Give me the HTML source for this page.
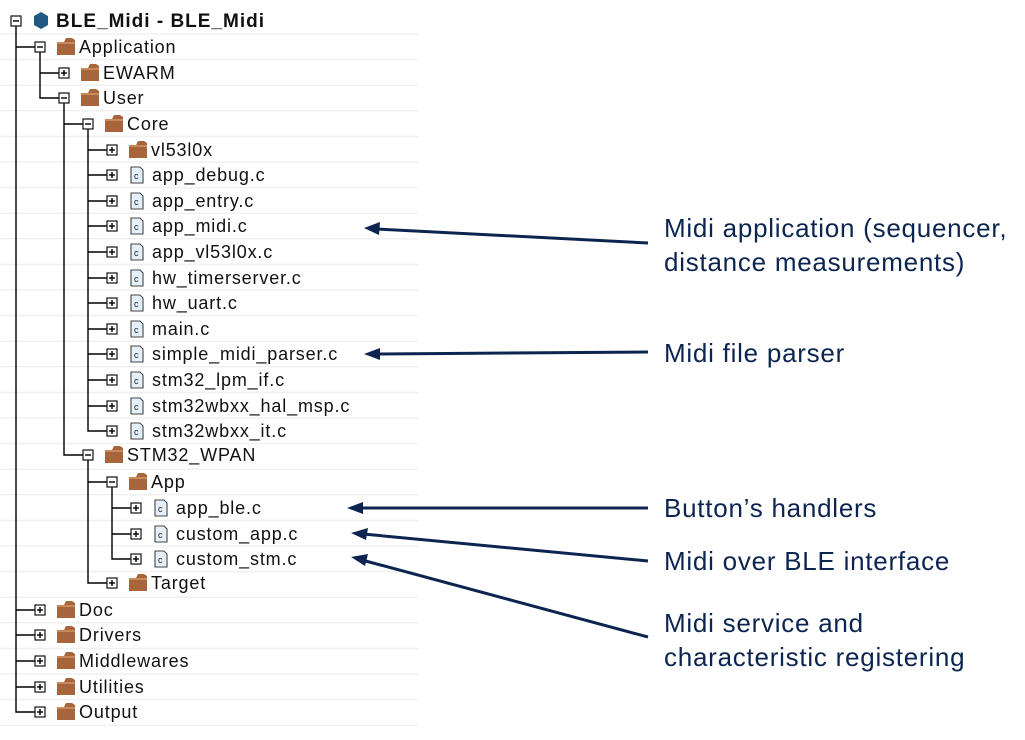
<!DOCTYPE html>
<html><head><meta charset="utf-8"><style>
html,body{margin:0;padding:0;background:#fff;}
svg{display:block;}
.t{font-family:"Liberation Sans",sans-serif;font-size:18px;letter-spacing:0.85px;fill:#111;}
.l{font-family:"Liberation Sans",sans-serif;font-size:26px;letter-spacing:0.75px;fill:#0c2550;}
</style></head><body>
<svg width="1025" height="740" viewBox="0 0 1025 740" xmlns="http://www.w3.org/2000/svg">
<defs>
<g id="bm"><rect x="-5" y="-5" width="10" height="10" fill="#fff" stroke="#111" stroke-width="1.2"/><line x1="-3" y1="0" x2="3" y2="0" stroke="#000" stroke-width="1.4"/></g>
<g id="bp"><rect x="-5" y="-5" width="10" height="10" fill="#fff" stroke="#111" stroke-width="1.2"/><line x1="-3" y1="0" x2="3" y2="0" stroke="#000" stroke-width="1.4"/><line x1="0" y1="-3" x2="0" y2="3" stroke="#000" stroke-width="1.4"/></g>
<g id="fd"><path d="M17,-5 L17,8 L35,8 L35,-7 L32,-9 L26,-9 L24,-5 Z" fill="#a8643a"/><rect x="17" y="-5" width="18" height="2" fill="#c88a5a"/></g>
<g id="fl"><path d="M19,-8 L28,-8 L31,-5 L31,8 L19,8 Z" fill="#e6f0fa" stroke="#444" stroke-width="1.1"/><text x="22" y="4" font-family="Liberation Sans" font-size="9" fill="#222">c</text></g>
</defs>
<g stroke="#f0f0f0" stroke-width="1.5">
<line x1="0" y1="34" x2="418" y2="34"/><line x1="0" y1="59.6" x2="418" y2="59.6"/><line x1="0" y1="85.2" x2="418" y2="85.2"/><line x1="0" y1="110.8" x2="418" y2="110.8"/><line x1="0" y1="136.4" x2="418" y2="136.4"/><line x1="0" y1="162" x2="418" y2="162"/><line x1="0" y1="187.6" x2="418" y2="187.6"/><line x1="0" y1="213.2" x2="418" y2="213.2"/><line x1="0" y1="238.8" x2="418" y2="238.8"/><line x1="0" y1="264.4" x2="418" y2="264.4"/><line x1="0" y1="290" x2="418" y2="290"/><line x1="0" y1="315.6" x2="418" y2="315.6"/><line x1="0" y1="341.2" x2="418" y2="341.2"/><line x1="0" y1="366.8" x2="418" y2="366.8"/><line x1="0" y1="392.4" x2="418" y2="392.4"/><line x1="0" y1="418" x2="418" y2="418"/><line x1="0" y1="443.6" x2="418" y2="443.6"/><line x1="0" y1="469.2" x2="418" y2="469.2"/><line x1="0" y1="494.8" x2="418" y2="494.8"/><line x1="0" y1="520.4" x2="418" y2="520.4"/><line x1="0" y1="546" x2="418" y2="546"/><line x1="0" y1="571.6" x2="418" y2="571.6"/><line x1="0" y1="597.2" x2="418" y2="597.2"/><line x1="0" y1="622.8" x2="418" y2="622.8"/><line x1="0" y1="648.4" x2="418" y2="648.4"/><line x1="0" y1="674" x2="418" y2="674"/><line x1="0" y1="699.6" x2="418" y2="699.6"/><line x1="0" y1="725.2" x2="418" y2="725.2"/>
</g>
<g stroke="#000" stroke-width="1.4" fill="none">
<path d="M16,26 V712 H35"/>
<path d="M16,47 H35 M16,610 H35 M16,635 H35 M16,661 H35 M16,687 H35"/>
<path d="M40,52 V98 H59 M40,73 H59"/>
<path d="M64,103 V455 H83 M64,124 H83"/>
<path d="M88,129 V431 H107"/>
<path d="M88,150 H107 M88,175 H107 M88,201 H107 M88,226 H107 M88,252 H107 M88,278 H107 M88,303 H107 M88,329 H107 M88,354 H107 M88,380 H107 M88,406 H107"/>
<path d="M88,460 V583 H107 M88,482 H107"/>
<path d="M112,487 V559 H131 M112,508 H131 M112,534 H131"/>
</g>
<use href="#bm" x="16" y="21"/>
<path d="M41,12 L48,16 L48,25 L41,29 L34,25 L34,16 Z" fill="#1f5a85"/>
<text x="56" y="27" class="t" style="font-weight:bold;font-size:19px;letter-spacing:1px">BLE_Midi - BLE_Midi</text>
<use href="#bm" x="40" y="47"/><use href="#fd" x="40" y="47"/><text x="79" y="53" class="t">Application</text>
<use href="#bp" x="64" y="73"/><use href="#fd" x="64" y="73"/><text x="103" y="79" class="t">EWARM</text>
<use href="#bm" x="64" y="98"/><use href="#fd" x="64" y="98"/><text x="103" y="104" class="t">User</text>
<use href="#bm" x="88" y="124"/><use href="#fd" x="88" y="124"/><text x="127" y="130" class="t">Core</text>
<use href="#bp" x="112" y="150"/><use href="#fd" x="112" y="150"/><text x="151" y="156" class="t">vl53l0x</text>
<use href="#bp" x="112" y="175"/><use href="#fl" x="112" y="175"/><text x="152" y="181" class="t">app_debug.c</text>
<use href="#bp" x="112" y="201"/><use href="#fl" x="112" y="201"/><text x="152" y="207" class="t">app_entry.c</text>
<use href="#bp" x="112" y="226"/><use href="#fl" x="112" y="226"/><text x="152" y="232" class="t">app_midi.c</text>
<use href="#bp" x="112" y="252"/><use href="#fl" x="112" y="252"/><text x="152" y="258" class="t">app_vl53l0x.c</text>
<use href="#bp" x="112" y="278"/><use href="#fl" x="112" y="278"/><text x="152" y="284" class="t">hw_timerserver.c</text>
<use href="#bp" x="112" y="303"/><use href="#fl" x="112" y="303"/><text x="152" y="309" class="t">hw_uart.c</text>
<use href="#bp" x="112" y="329"/><use href="#fl" x="112" y="329"/><text x="152" y="335" class="t">main.c</text>
<use href="#bp" x="112" y="354"/><use href="#fl" x="112" y="354"/><text x="152" y="360" class="t">simple_midi_parser.c</text>
<use href="#bp" x="112" y="380"/><use href="#fl" x="112" y="380"/><text x="152" y="386" class="t">stm32_lpm_if.c</text>
<use href="#bp" x="112" y="406"/><use href="#fl" x="112" y="406"/><text x="152" y="412" class="t">stm32wbxx_hal_msp.c</text>
<use href="#bp" x="112" y="431"/><use href="#fl" x="112" y="431"/><text x="152" y="437" class="t">stm32wbxx_it.c</text>
<use href="#bm" x="88" y="455"/><use href="#fd" x="88" y="455"/><text x="127" y="461" class="t">STM32_WPAN</text>
<use href="#bm" x="112" y="482"/><use href="#fd" x="112" y="482"/><text x="151" y="488" class="t">App</text>
<use href="#bp" x="136" y="508"/><use href="#fl" x="136" y="508"/><text x="176" y="514" class="t">app_ble.c</text>
<use href="#bp" x="136" y="534"/><use href="#fl" x="136" y="534"/><text x="176" y="540" class="t">custom_app.c</text>
<use href="#bp" x="136" y="559"/><use href="#fl" x="136" y="559"/><text x="176" y="565" class="t">custom_stm.c</text>
<use href="#bp" x="112" y="583"/><use href="#fd" x="112" y="583"/><text x="151" y="589" class="t">Target</text>
<use href="#bp" x="40" y="610"/><use href="#fd" x="40" y="610"/><text x="79" y="616" class="t">Doc</text>
<use href="#bp" x="40" y="635"/><use href="#fd" x="40" y="635"/><text x="79" y="641" class="t">Drivers</text>
<use href="#bp" x="40" y="661"/><use href="#fd" x="40" y="661"/><text x="79" y="667" class="t">Middlewares</text>
<use href="#bp" x="40" y="687"/><use href="#fd" x="40" y="687"/><text x="79" y="693" class="t">Utilities</text>
<use href="#bp" x="40" y="712"/><use href="#fd" x="40" y="712"/><text x="79" y="718" class="t">Output</text>
<g stroke="#0c2550" stroke-width="3" fill="#0c2550">
<line x1="648" y1="243" x2="376" y2="229"/>
<line x1="648" y1="352" x2="376" y2="354"/>
<line x1="648" y1="508" x2="360" y2="508"/>
<line x1="648" y1="561" x2="363" y2="534"/>
<line x1="648" y1="637" x2="362" y2="560"/>
</g>
<g fill="#0c2550">
<polygon points="364,228 380,222 379,235"/>
<polygon points="364,354 380,348 380,360"/>
<polygon points="347,508 363,502 363,514"/>
<polygon points="351,533 368,528 366,540"/>
<polygon points="351,557 368,554 365,566"/>
</g>
<text x="664" y="237" class="l">Midi application (sequencer,</text>
<text x="664" y="271" class="l">distance measurements)</text>
<text x="664" y="362" class="l">Midi file parser</text>
<text x="664" y="517" class="l">Button’s handlers</text>
<text x="664" y="570" class="l">Midi over BLE interface</text>
<text x="664" y="632" class="l">Midi service and</text>
<text x="664" y="666" class="l">characteristic registering</text>
</svg>
</body></html>
